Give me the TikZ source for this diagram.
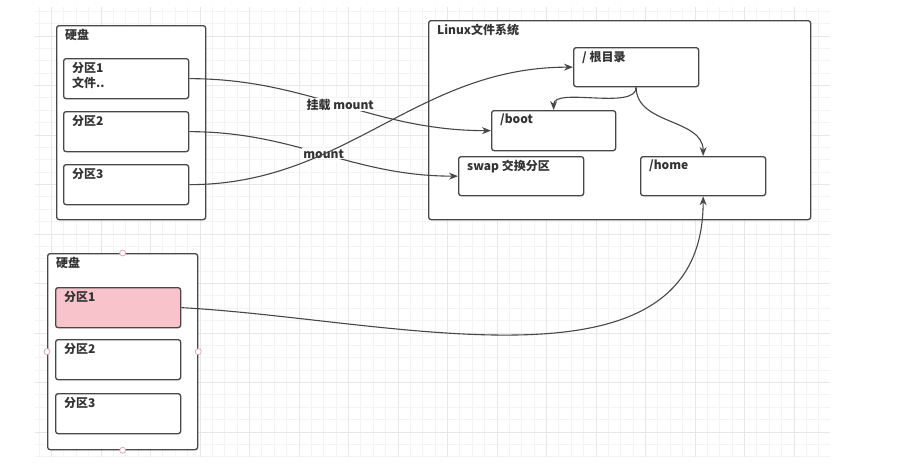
\documentclass[tikz,border=0pt]{standalone}
\usepackage{fontspec}
\setmainfont{Noto Sans CJK SC}
\usetikzlibrary{arrows.meta}
\definecolor{boxline}{HTML}{474747}
\definecolor{textgray}{HTML}{333333}
\definecolor{partpink}{HTML}{F9C3CC}
\definecolor{handlepink}{HTML}{D9A3AC}
\definecolor{gridminor}{HTML}{F3F3F3}
\definecolor{gridmajor}{HTML}{E7E7E7}
\begin{document}
\begin{tikzpicture}[
        x=1pt,
        y=-1pt,
        box/.style={draw=boxline, line width=1.3pt, rounded corners=2.5pt, fill=white, inner sep=0pt, anchor=north west, minimum width=125pt, minimum height=40pt},
        tag/.style={anchor=north west, inner sep=0pt, xshift=9pt, yshift=-4pt, font=\fontsize{12pt}{15pt}\selectfont\bfseries, text=textgray, align=left},
        link/.style={draw=boxline, line width=1.1pt, -{Stealth[length=9pt, width=7pt]}},
        linklabel/.style={fill=white, inner sep=1pt, font=\fontsize{12pt}{15pt}\selectfont\bfseries, text=textgray},
        handle/.style={circle, draw=handlepink, fill=white, line width=0.7pt, inner sep=0pt, minimum size=6pt},
        thingrid/.style={draw=gridminor, line width=0.8pt},
        thickgrid/.style={draw=gridmajor, line width=1pt}
    ]
    \fill[white] (0,0) rectangle (902,471);
    \useasboundingbox (0,0) rectangle (902,471);

    \foreach \k in {3,...,66}
        \draw[thingrid] ({2+12.375*\k},7) -- ({2+12.375*\k},457);
    \foreach \k in {0,...,36}
        \draw[thingrid] (35,{11.25+12.375*\k}) -- (830,{11.25+12.375*\k});
    \foreach \k in {1,...,16}
        \draw[thickgrid] ({2+49.5*\k},7) -- ({2+49.5*\k},457);
    \foreach \k in {0,...,8}
        \draw[thickgrid] (35,{36+49.5*\k}) -- (830,{36+49.5*\k});

    \node[box, minimum width=149pt, minimum height=194pt, label={[tag]north west:硬盘}] (disk1) at (56,25) {};
    \node[box, label={[tag]north west:分区1\\文件..}] (d1p1) at (63,58) {};
    \node[box, label={[tag]north west:分区2}] (d1p2) at (63,111) {};
    \node[box, label={[tag]north west:分区3}] (d1p3) at (63,164) {};

    \node[box, minimum width=382pt, minimum height=199pt, label={[tag]north west:Linux文件系统}] (linux) at (428,20) {};
    \node[box, minimum height=39pt, label={[tag]north west:/ 根目录}] (root) at (573,47) {};
    \node[box, minimum width=124pt, label={[tag]north west:/boot}] (boot) at (491,110) {};
    \node[box, minimum height=39pt, label={[tag]north west:swap 交换分区}] (swap) at (458,156) {};
    \node[box, minimum height=39pt, label={[tag]north west:/home}] (home) at (640,156) {};

    \node[box, minimum width=150pt, minimum height=196pt, label={[tag]north west:硬盘}] (disk2) at (47,253) {};
    \node[box, fill=partpink, label={[tag]north west:分区1}] (d2p1) at (55,287) {};
    \node[box, label={[tag]north west:分区2}] (d2p2) at (55,339) {};
    \node[box, label={[tag]north west:分区3}] (d2p3) at (55,393) {};
    \node[handle] (hn) at (disk2.north) {};
    \node[handle] (hs) at (disk2.south) {};
    \node[handle] (hw) at (disk2.west) {};
    \node[handle] (he) at (disk2.east) {};

    \draw[link] (d1p1.east) to[out=0, in=180] node[linklabel] {挂载 mount} (boot.west);
    \draw[link] (d1p2.east) to[out=0, in=180] node[linklabel] {mount} (swap.west);
    \draw[link] (d1p3.east) to[out=0, in=180] (root.west);
    \draw[link] (root.south) to[out=-90, in=90, looseness=0.7] (boot.north);
    \draw[link] (root.south) to[out=-90, in=90] (home.north);
    \draw[link] (d2p1.east) to[out=-3, in=-90] (home.south);
\end{tikzpicture}
\end{document}
